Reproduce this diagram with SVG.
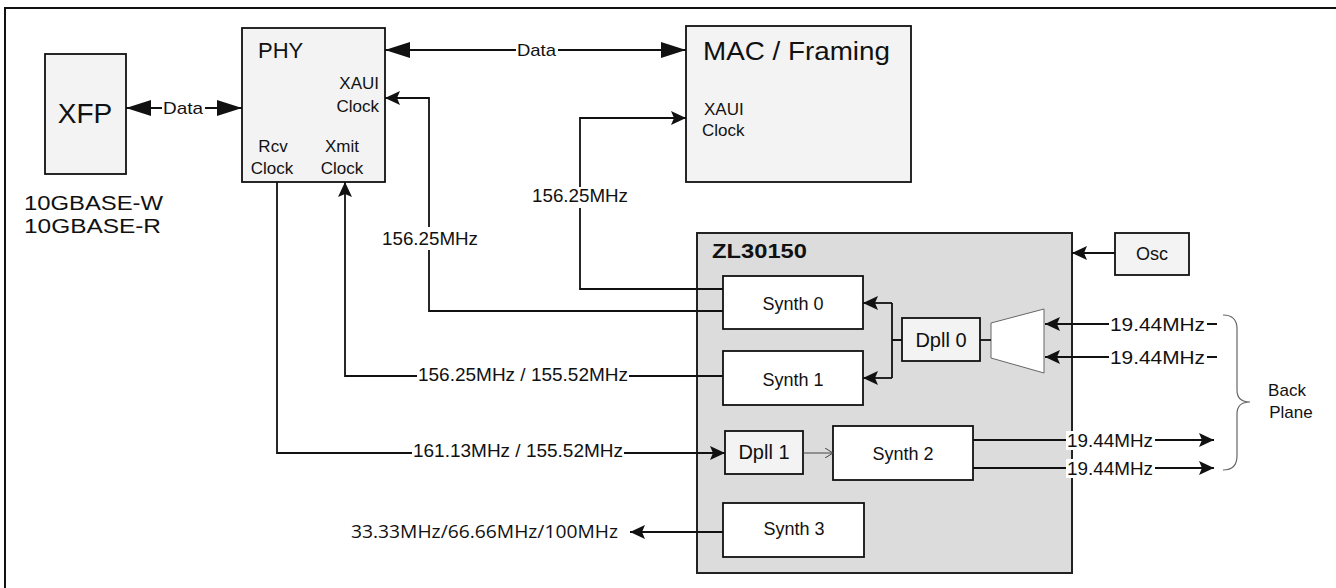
<svg xmlns="http://www.w3.org/2000/svg" width="1336" height="588" viewBox="0 0 1336 588">
<style>
text{font-family:"Liberation Sans",Arial,sans-serif;fill:#111}
.box{fill:#f3f3f3;stroke:#111;stroke-width:1.8}
.wbox{fill:#fff;stroke:#111;stroke-width:1.8}
.ln{fill:none;stroke:#111;stroke-width:1.8}
.bg{fill:#fff}
.lbl{font-size:18px}
.sm{font-size:17px}
</style>
<defs>
<marker id="big" markerUnits="userSpaceOnUse" markerWidth="26" markerHeight="16" refX="25" refY="8" orient="auto-start-reverse"><path d="M0,0 L25,8 L0,16 z" fill="#111"/></marker>
<marker id="med" markerUnits="userSpaceOnUse" markerWidth="16" markerHeight="14" refX="15" refY="7" orient="auto-start-reverse"><path d="M0,0 L15,7 L0,14 L3,7 z" fill="#111"/></marker>
<marker id="open" markerUnits="userSpaceOnUse" markerWidth="10" markerHeight="10" refX="8" refY="5" orient="auto"><path d="M0,0 L8,5 L0,10" fill="none" stroke="#444" stroke-width="1"/></marker>
</defs>
<rect x="5" y="8" width="1340" height="600" fill="none" stroke="#111" stroke-width="2"/>

<g id="xfp">
<rect class="box" x="45" y="54" width="81" height="120"/>
<text x="85" y="123" font-size="28" text-anchor="middle">XFP</text>
<text x="24" y="210" font-size="20" textLength="139" lengthAdjust="spacingAndGlyphs">10GBASE-W</text>
<text x="24" y="233" font-size="20" textLength="137" lengthAdjust="spacingAndGlyphs">10GBASE-R</text>
</g>

<g id="phy">
<rect class="box" x="242" y="28" width="143" height="154"/>
<text x="258" y="58" font-size="22">PHY</text>
<text x="379" y="89" class="sm" text-anchor="end">XAUI</text>
<text x="379" y="112" class="sm" text-anchor="end">Clock</text>
<text x="273" y="152" class="sm" text-anchor="middle">Rcv</text>
<text x="272" y="174" class="sm" text-anchor="middle">Clock</text>
<text x="342" y="152" class="sm" text-anchor="middle">Xmit</text>
<text x="342" y="174" class="sm" text-anchor="middle">Clock</text>
</g>

<g id="mac">
<rect class="box" x="686" y="26" width="225" height="156"/>
<text x="703" y="60" font-size="26" textLength="187" lengthAdjust="spacingAndGlyphs">MAC / Framing</text>
<text x="704" y="115" class="sm">XAUI</text>
<text x="702" y="136" class="sm">Clock</text>
</g>

<g id="zl30150">
<rect x="697" y="233" width="375" height="340" fill="#dcdcdc" stroke="#222" stroke-width="2"/>
<text x="712" y="258" font-size="20" font-weight="bold" textLength="95" lengthAdjust="spacingAndGlyphs">ZL30150</text>
</g>

<g id="osc">
<rect class="box" x="1115" y="233" width="74" height="42"/>
<text x="1152" y="260" font-size="18" text-anchor="middle">Osc</text>
</g>

<g id="synth0">
<rect class="wbox" x="723" y="276" width="140" height="53"/>
<text x="793" y="310" class="lbl" text-anchor="middle">Synth 0</text>
</g>
<g id="synth1">
<rect class="wbox" x="723" y="351" width="140" height="54"/>
<text x="793" y="386" class="lbl" text-anchor="middle">Synth 1</text>
</g>
<g id="dpll0">
<rect class="box" x="902" y="318" width="78" height="43"/>
<text x="941" y="347" font-size="20" text-anchor="middle">Dpll 0</text>
</g>
<g id="mux">
<path d="M991,323 L1044,309 L1044,373 L991,358 z" fill="#fff" stroke="#666" stroke-width="1"/>
</g>
<g id="dpll1">
<rect class="box" x="725" y="431" width="78" height="43"/>
<text x="764" y="459" font-size="20" text-anchor="middle">Dpll 1</text>
</g>
<g id="synth2">
<rect class="wbox" x="833" y="426" width="140" height="54"/>
<text x="903" y="460" class="lbl" text-anchor="middle">Synth 2</text>
</g>
<g id="synth3">
<rect class="wbox" x="723" y="503" width="141" height="54"/>
<text x="794" y="535" class="lbl" text-anchor="middle">Synth 3</text>
</g>

<g id="connectors">
<line class="ln" x1="126" y1="108" x2="242" y2="108" marker-start="url(#big)" marker-end="url(#big)"/>
<rect class="bg" x="162" y="99" width="43" height="18"/>
<text x="163" y="114" font-size="17" textLength="40" lengthAdjust="spacingAndGlyphs">Data</text>

<line class="ln" x1="385" y1="50" x2="686" y2="50" marker-start="url(#big)" marker-end="url(#big)"/>
<rect class="bg" x="516" y="41" width="42" height="18"/>
<text x="517" y="56" font-size="17" textLength="39" lengthAdjust="spacingAndGlyphs">Data</text>

<polyline class="ln" points="723,289 580,289 580,118 686,118" marker-end="url(#med)"/>
<rect class="bg" x="530" y="187" width="100" height="21"/>
<text x="532" y="202" class="lbl" textLength="96" lengthAdjust="spacingAndGlyphs">156.25MHz</text>

<polyline class="ln" points="723,311 429,311 429,98 385,98" marker-end="url(#med)"/>
<rect class="bg" x="380" y="227" width="100" height="23"/>
<text x="382" y="245" class="lbl" textLength="96" lengthAdjust="spacingAndGlyphs">156.25MHz</text>

<polyline class="ln" points="723,376 345,376 345,182" marker-end="url(#med)"/>
<rect class="bg" x="417" y="366" width="212" height="18"/>
<text x="418" y="381" class="lbl" textLength="210" lengthAdjust="spacingAndGlyphs">156.25MHz / 155.52MHz</text>

<polyline class="ln" points="277,182 277,453 725,453" marker-end="url(#med)"/>
<rect class="bg" x="412" y="442" width="212" height="16"/>
<text x="413" y="457" class="lbl" textLength="210" lengthAdjust="spacingAndGlyphs">161.13MHz / 155.52MHz</text>

<line class="ln" x1="1115" y1="253" x2="1072" y2="253" marker-end="url(#med)"/>

<path class="ln" d="M892,340 L902,340 M892,303 L892,378"/>
<line class="ln" x1="892" y1="303" x2="863" y2="303" marker-end="url(#med)"/>
<line class="ln" x1="892" y1="378" x2="863" y2="378" marker-end="url(#med)"/>
<line class="ln" x1="980" y1="340" x2="991" y2="340"/>

<line class="ln" x1="1217" y1="324" x2="1045" y2="324" marker-end="url(#med)"/>
<rect class="bg" x="1109" y="314" width="98" height="19"/>
<text x="1110" y="331" font-size="19" textLength="95" lengthAdjust="spacingAndGlyphs">19.44MHz</text>
<line class="ln" x1="1217" y1="357" x2="1045" y2="357" marker-end="url(#med)"/>
<rect class="bg" x="1109" y="347" width="98" height="19"/>
<text x="1110" y="364" font-size="19" textLength="95" lengthAdjust="spacingAndGlyphs">19.44MHz</text>

<line x1="803" y1="453" x2="833" y2="453" stroke="#444" stroke-width="1" marker-end="url(#open)"/>

<line class="ln" x1="973" y1="440" x2="1214" y2="440" marker-end="url(#med)"/>
<rect class="bg" x="1066" y="431" width="89" height="19"/>
<text x="1067" y="447" font-size="18" textLength="86" lengthAdjust="spacingAndGlyphs">19.44MHz</text>
<line class="ln" x1="973" y1="468" x2="1214" y2="468" marker-end="url(#med)"/>
<rect class="bg" x="1066" y="459" width="89" height="19"/>
<text x="1067" y="475" font-size="18" textLength="86" lengthAdjust="spacingAndGlyphs">19.44MHz</text>

<line class="ln" x1="723" y1="532" x2="630" y2="532" marker-end="url(#med)"/>
<text x="351" y="538" font-size="18" textLength="267" lengthAdjust="spacingAndGlyphs" style="font-family:'Open Sans',sans-serif">33.33MHz/66.66MHz/100MHz</text>

<path d="M1223,315 Q1237,315 1237,329 L1237,390 Q1237,402 1250,402 Q1237,402 1237,414 L1237,456 Q1237,470 1223,470" fill="none" stroke="#666" stroke-width="1.2"/>
<text x="1287" y="396" font-size="17" text-anchor="middle">Back</text>
<text x="1291" y="418" font-size="17" text-anchor="middle">Plane</text>
</g>
</svg>
